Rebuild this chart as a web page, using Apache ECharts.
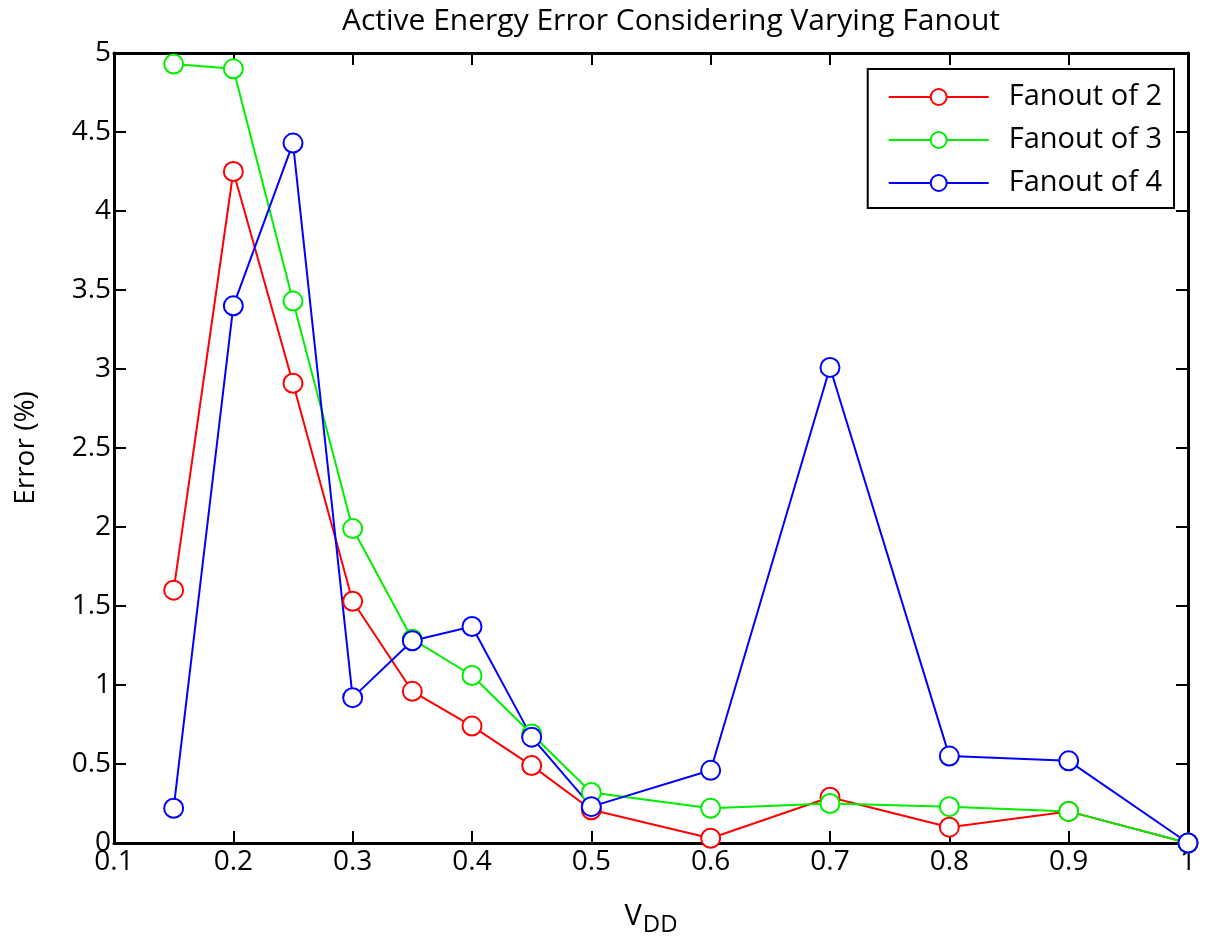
<!DOCTYPE html>
<html><head><meta charset="utf-8">
<script src="https://cdn.jsdelivr.net/npm/echarts@6/dist/echarts.min.js"></script>
<style>html,body{margin:0;padding:0;background:#fff}#c{width:1205px;height:937px}</style>
</head><body><div id="c"></div>
<script>
const vdd = [0.15, 0.2, 0.25, 0.3, 0.35, 0.4, 0.45, 0.5, 0.6, 0.7, 0.8, 0.9, 1.0];
const fanout2 = [1.60, 4.25, 2.91, 1.53, 0.96, 0.74, 0.49, 0.21, 0.03, 0.29, 0.10, 0.20, 0.0];
const fanout3 = [4.93, 4.90, 3.43, 1.99, 1.29, 1.06, 0.69, 0.32, 0.22, 0.25, 0.23, 0.20, 0.0];
const fanout4 = [0.22, 3.40, 4.43, 0.92, 1.28, 1.37, 0.67, 0.23, 0.46, 3.01, 0.55, 0.52, 0.0];
const seriesNames = ['Fanout of 2', 'Fanout of 3', 'Fanout of 4'];
const colors = ['#ff0000', '#00ee00', '#0000ff'];
const FONT = '"Open Sans", Lato, sans-serif';

const chart = echarts.init(document.getElementById('c'));
const mk = (name, vals, color) => ({
  name, type: 'line', xAxisIndex: 0, yAxisIndex: 0,
  data: vdd.map((x, i) => [x, vals[i]]),
  symbol: 'emptyCircle', symbolSize: 19,
  lineStyle: { color, width: 2 },
  itemStyle: { color, borderColor: color, borderWidth: 2 },
  emphasis: { disabled: true }, z: 3
});
const tickStyle = { show: true, inside: true, length: 12, lineStyle: { color: '#000', width: 2 } };
chart.setOption({
  animation: false,
  backgroundColor: '#fff',
  textStyle: { fontFamily: FONT },
  title: {
    text: 'Active Energy Error Considering Varying Fanout',
    left: 666, top: 1, textAlign: 'center',
    textStyle: { fontFamily: FONT, fontSize: 30, fontWeight: 'normal', color: '#000' }
  },
  grid: { left: 114, right: 17, top: 53, bottom: 94, outerBoundsMode: 'none', containLabel: false },
  legend: {
    orient: 'vertical', right: 31, top: 69,
    padding: [13, 12, 10, 20],
    itemGap: 13,
    itemWidth: 100, itemHeight: 20,
    borderColor: '#000', borderWidth: 2, backgroundColor: '#fff',
    textStyle: { fontFamily: FONT, fontSize: 29, lineHeight: 30, color: '#000', padding: [0, 0, 0, 15] },
    data: seriesNames
  },
  xAxis: [{
    type: 'value', min: 0.1, max: 1, interval: 0.1,
    name: '{v|V}{s|DD}', nameLocation: 'middle', nameGap: 54,
    nameTextStyle: { rich: {
      v: { fontFamily: FONT, fontSize: 29, color: '#000' },
      s: { fontFamily: FONT, fontSize: 24, color: '#000', verticalAlign: 'bottom', padding: [16, 0, 0, 1] }
    } },
    axisLine: { show: true, onZero: false, lineStyle: { color: '#000', width: 3 } },
    axisTick: tickStyle,
    splitLine: { show: false },
    axisLabel: { fontFamily: FONT, fontSize: 28, color: '#000', margin: 5,
      formatter: v => (Math.round(v * 10) / 10).toString() }
  }, {
    type: 'value', position: 'top', min: 0.1, max: 1, interval: 0.1,
    axisLine: { show: true, onZero: false, lineStyle: { color: '#000', width: 3 } },
    axisTick: tickStyle, axisLabel: { show: false }, splitLine: { show: false }
  }],
  yAxis: [{
    type: 'value', min: 0, max: 5, interval: 0.5,
    name: 'Error (%)', nameLocation: 'middle', nameGap: 74,
    nameTextStyle: { fontFamily: FONT, fontSize: 28, color: '#000' },
    axisLine: { show: true, onZero: false, lineStyle: { color: '#000', width: 3 } },
    axisTick: tickStyle,
    splitLine: { show: false },
    axisLabel: { fontFamily: FONT, fontSize: 28, color: '#000', margin: 3 }
  }, {
    type: 'value', position: 'right', min: 0, max: 5, interval: 0.5,
    axisLine: { show: true, onZero: false, lineStyle: { color: '#000', width: 3 } },
    axisTick: tickStyle, axisLabel: { show: false }, splitLine: { show: false }
  }],
  series: [
    mk(seriesNames[0], fanout2, colors[0]),
    mk(seriesNames[1], fanout3, colors[1]),
    mk(seriesNames[2], fanout4, colors[2])
  ]
});
</script></body></html>
